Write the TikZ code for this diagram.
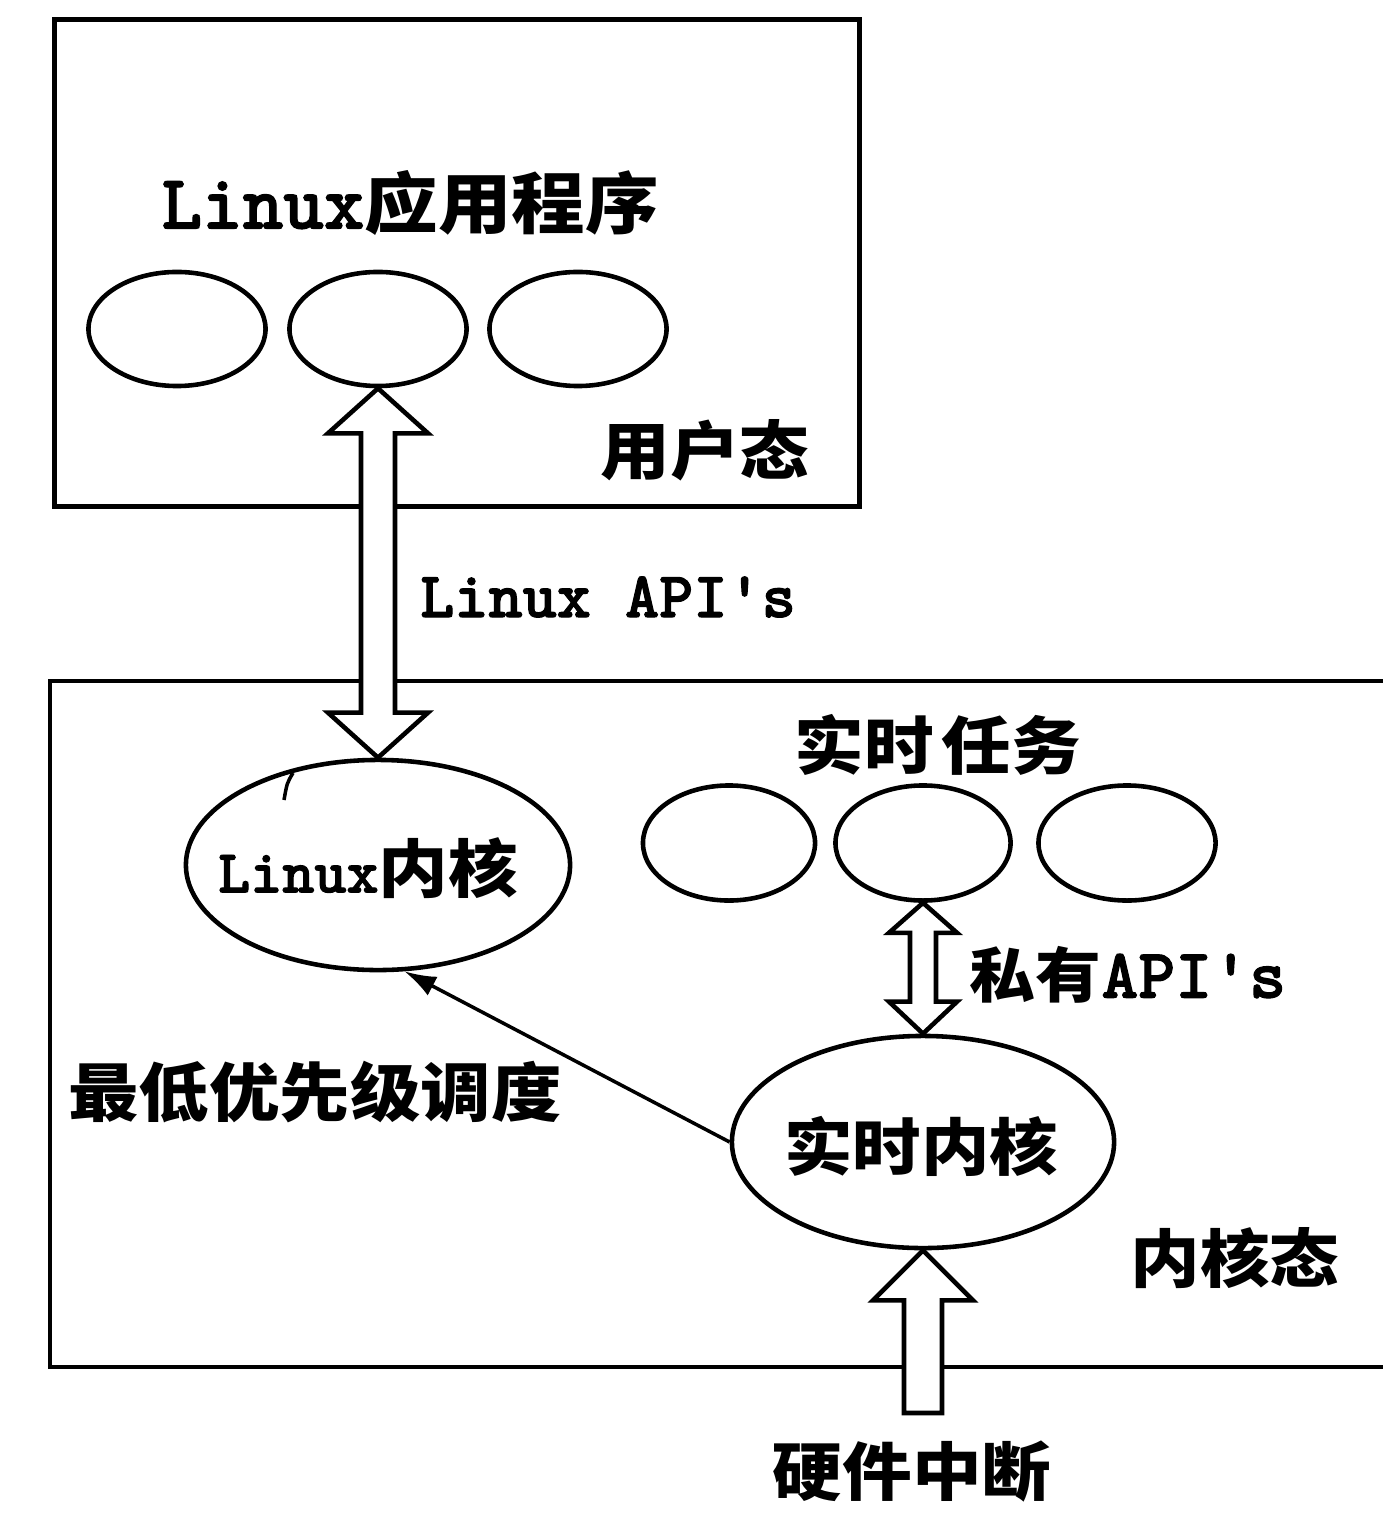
\documentclass[tikz,border=0pt]{standalone}
\usepackage{fontspec}
\newfontfamily\cjk{Noto Sans CJK SC}[FakeStretch=1.1]
\newfontfamily\lat{lmmonolt10-bold.otf}[FakeBold=1.6]
\usetikzlibrary{shapes.geometric,arrows.meta,calc}
\newcommand\Lx[2]{{\lat\fontsize{#1}{#1}\selectfont #2}}
\newcommand\Cj[2]{{\cjk\bfseries\fontsize{#1}{#1}\selectfont #2}}
\tikzset{
  boxline/.style={draw,line width=1.3pt},
  oval/.style={draw,ellipse,inner sep=0pt,line width=1.3pt},
  fat/.style={draw,line width=1.3pt,fill=white,line join=miter},
  lab/.style={inner sep=0pt,anchor=center},
  thinarrow/.style={-{Latex[length=9pt,width=6pt]},line width=1pt}
}
\begin{document}
\begin{tikzpicture}[x=0.01cm,y=-0.01cm]
\useasboundingbox[fill=white] (0,0) rectangle (1383,1516);
% upper box
\node[boxline,minimum width=8.05cm,minimum height=4.87cm,inner sep=0pt] (ubox) at (457,263) {};
% lower box (open to the right)
\draw[boxline,line width=1.1pt] (1400,681) -- (50,681) -- (50,1367) -- (1400,1367);
% user state
\node[lab] (apptitle) at (410,203) {\Lx{22pt}{Linux}\Cj{19pt}{应用程序}};
\node[oval,minimum width=1.77cm,minimum height=1.14cm] (app1) at (177,329) {};
\node[oval,minimum width=1.77cm,minimum height=1.14cm] (app2) at (378,329) {};
\node[oval,minimum width=1.77cm,minimum height=1.14cm] (app3) at (578,329) {};
\node[lab] (user) at (705,450) {\Cj{18pt}{用户态}};
% kernel state
\node[oval,minimum width=3.84cm,minimum height=2.1cm] (lk) at (378,865) {};
\node[lab] (lktext) at (368,868) {\Lx{17.4pt}{Linux}\Cj{18pt}{内核}};
\draw[line width=1pt] (293,773) .. controls (287,783) .. (284,800);
\node[lab] (rttitle) at (938,745) {\Cj{18pt}{实时\hspace{0.12em}任务}};
\node[oval,minimum width=1.72cm,minimum height=1.15cm] (rt1) at (729,843) {};
\node[oval,minimum width=1.75cm,minimum height=1.15cm] (rt2) at (923,843) {};
\node[oval,minimum width=1.77cm,minimum height=1.15cm] (rt3) at (1127,843) {};
\node[oval,minimum width=3.82cm,minimum height=2.12cm] (rtk) at (923,1142) {};
\node[lab] (rtktext) at (921,1146) {\Cj{17.7pt}{实时内核}};
\node[lab] (kstate) at (1235,1258) {\Cj{18pt}{内核态}};
\node[lab] (sched) at (315,1092) {\Cj{18.2pt}{最低优先级调度}};
\node[lab] (papi) at (1128,975) {\Cj{17pt}{私有}\Lx{20pt}{API's}};
\node[lab] (lapi) at (608,597) {\Lx{18.5pt}{Linux API's}};
\node[lab] (hw) at (912,1472) {\Cj{18pt}{硬件中断}};
\coordinate (hwbot) at (923,1413);
% Linux API double arrow
\draw[fat] (app2.south) -- ++(50,45) -- ++(-33,0) -- ($(lk.north)+(17,-45)$) -- ++(33,0)
  -- (lk.north) -- ++(-50,-45) -- ++(33,0) -- ($(app2.south)+(-17,45)$) -- ++(-33,0) -- cycle;
% private API double arrow
\draw[fat] (rt2.south) -- ++(34,30) -- ++(-21,0) -- ($(rtk.north)+(13,-32)$) -- ++(21,0)
  -- (rtk.north) -- ++(-34,-32) -- ++(21,0) -- ($(rt2.south)+(-13,30)$) -- ++(-21,0) -- cycle;
% hardware interrupt arrow
\draw[fat] (rtk.south) -- ++(50,50) -- ++(-31,0) -- ($(hwbot)+(19,0)$) -- ($(hwbot)+(-19,0)$)
  -- ($(rtk.south)+(-19,50)$) -- ++(-31,0) -- cycle;
% lowest priority scheduling
\draw[thinarrow] (rtk.west) -- (lk.-76);
\end{tikzpicture}
\end{document}
